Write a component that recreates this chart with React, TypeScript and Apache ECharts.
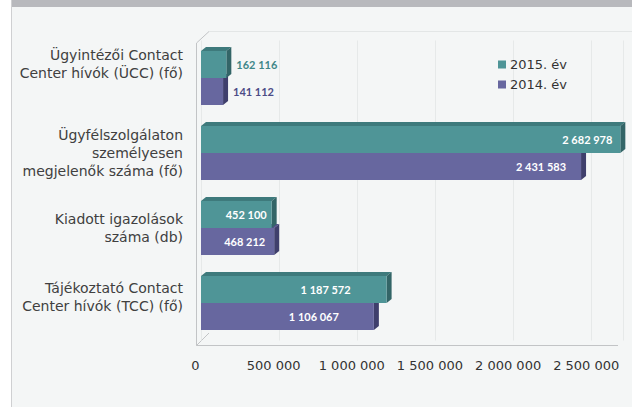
import React, { useEffect, useRef } from "react";
import * as echarts from "echarts";

const categories = [
  "Ügyintézői Contact\nCenter hívók (ÜCC) (fő)",
  "Ügyfélszolgálaton\nszemélyesen\nmegjelenők száma (fő)",
  "Kiadott igazolások\nszáma (db)",
  "Tájékoztató Contact\nCenter hívók (TCC) (fő)",
];
const seriesNames = ["2015. év", "2014. év"];
const values2015 = [162116, 2682978, 452100, 1187572];
const values2014 = [141112, 2431583, 468212, 1106067];
const axisMin = 0;
const axisMax = 2700000;
const axisInterval = 500000;

// styling (not data)
const labelSpacer = [28, 0, 0, 12];
const labelInset2015 = [0, 8, 5, 36];
const labelInset2014 = [0, 15, 9, 35];

const fmt = (v: number) => String(v).replace(/\B(?=(\d{3})+(?!\d))/g, " ");

const palettes = [
  { front: "#4f9597", top: "#3e7a7c", side: "#336567", label: "#3f8789" },
  { front: "#67679f", top: "#52528a", side: "#3f3f6c", label: "#4c4c86" },
];

function makeRender(sIdx: number, insets: number[]) {
  const pal = palettes[sIdx];
  return (params: any, api: any) => {
    const idx = api.value(1);
    const v = api.value(0);
    const p0 = api.coord([0, idx]);
    const p1 = api.coord([v, idx]);
    const band = api.size([0, 1])[1];
    const h = band * 0.36;
    const y = sIdx === 0 ? p0[1] - h : p0[1];
    const x = p0[0];
    const w = p1[0] - p0[0];
    const dx = 5;
    const dy = 4;
    const outside = w < 50;
    const label = {
      type: "text",
      z2: 10,
      style: {
        text: fmt(v),
        x: outside ? x + w + dx + 5 : x + w - insets[idx],
        y: y + h / 2,
        align: outside ? "left" : "right",
        verticalAlign: "middle",
        fill: outside ? pal.label : "#ffffff",
        font: "bold 11px Lato",
      },
    };
    return {
      type: "group",
      children: [
        {
          type: "polygon",
          shape: { points: [[x, y], [x + dx, y - dy], [x + w + dx, y - dy], [x + w, y]] },
          style: { fill: pal.top },
        },
        {
          type: "polygon",
          shape: { points: [[x + w, y], [x + w + dx, y - dy], [x + w + dx, y + h - dy], [x + w, y + h]] },
          style: { fill: pal.side },
        },
        { type: "rect", shape: { x, y, width: w, height: h }, style: { fill: pal.front } },
        label,
      ],
    };
  };
}

export default function App() {
  const ref = useRef<HTMLDivElement>(null);
  useEffect(() => {
    document.body.style.margin = "0";
    if (!ref.current) return;
    const chart = echarts.init(ref.current, null, { renderer: "svg" });
    const frame = "#c2c4c6";
    const rich: any = {
      t: { fontSize: 14, lineHeight: 18, color: "#404040", fontFamily: "DejaVu Sans", align: "right" },
    };
    labelSpacer.forEach((s, i) => {
      rich["s" + i] = { fontSize: 1, lineHeight: s, align: "right" };
    });
    chart.setOption({
      animation: false,
      backgroundColor: "#f4f6f6",
      textStyle: { fontFamily: "DejaVu Sans" },
      grid: { left: 201, top: 40.5, width: 422, height: 300, containLabel: false },
      legend: {
        orient: "vertical",
        left: 493,
        top: 53,
        icon: "rect",
        itemWidth: 8,
        itemHeight: 8,
        itemGap: 7,
        itemStyle: { borderWidth: 0 },
        data: seriesNames,
        textStyle: { fontSize: 13, color: "#333", fontFamily: "DejaVu Sans", padding: [0, 0, 0, -1] },
      },
      xAxis: {
        type: "value",
        min: axisMin,
        max: axisMax,
        interval: axisInterval,
        axisLine: { show: false },
        axisTick: { show: false },
        splitLine: { show: true, lineStyle: { color: "#e6e9e9", width: 1 } },
        axisLabel: {
          showMaxLabel: false,
          margin: 18,
          padding: [0, 11, 0, 0],
          fontSize: 13,
          color: "#333",
          fontFamily: "DejaVu Sans",
          formatter: (v: number) => fmt(v),
        },
      },
      yAxis: {
        type: "category",
        inverse: true,
        data: categories,
        axisLine: { show: false },
        axisTick: { show: false },
        splitLine: { show: false },
        axisLabel: {
          margin: 18,
          align: "right",
          formatter: (value: string, index: number) => {
            const body = value
              .split("\n")
              .map((l) => `{t|${l}}`)
              .join("\n");
            return labelSpacer[index] ? body + `\n{s${index}| }` : body;
          },
          rich,
        },
      },
      graphic: [
        { type: "rect", shape: { x: 0, y: 0, width: 11, height: 407 }, style: { fill: "#ffffff" }, silent: true },
        { type: "rect", shape: { x: 11, y: 0, width: 621, height: 7 }, style: { fill: "#b8b9bd" }, silent: true },
        { type: "line", shape: { x1: 11.5, y1: 0, x2: 11.5, y2: 407 }, style: { stroke: "#cfd0d2", lineWidth: 1 }, silent: true },
        { type: "line", shape: { x1: 209, y1: 31.5, x2: 632, y2: 31.5 }, style: { stroke: "#e3e6e6", lineWidth: 1 }, silent: true },
        { type: "line", shape: { x1: 196.5, y1: 43, x2: 209, y2: 31.5 }, style: { stroke: frame, lineWidth: 1 }, silent: true },
        { type: "line", shape: { x1: 196.5, y1: 43, x2: 196.5, y2: 345.5 }, style: { stroke: frame, lineWidth: 1 }, silent: true },
        { type: "line", shape: { x1: 196.5, y1: 345.5, x2: 618, y2: 345.5 }, style: { stroke: frame, lineWidth: 1 }, silent: true },
        { type: "line", shape: { x1: 196.5, y1: 345.5, x2: 209, y2: 333 }, style: { stroke: frame, lineWidth: 1 }, silent: true },
      ],
      series: [
        {
          name: seriesNames[0],
          type: "custom",
          z: 4,
          itemStyle: { color: palettes[0].front },
          encode: { x: 0, y: 1 },
          data: values2015.map((v, i) => [v, i]),
          renderItem: makeRender(0, labelInset2015),
        },
        {
          name: seriesNames[1],
          type: "custom",
          z: 3,
          itemStyle: { color: palettes[1].front },
          encode: { x: 0, y: 1 },
          data: values2014.map((v, i) => [v, i]),
          renderItem: makeRender(1, labelInset2014),
        },
      ],
    });
    return () => chart.dispose();
  }, []);
  return <div ref={ref} style={{ width: 632, height: 407 }} />;
}
